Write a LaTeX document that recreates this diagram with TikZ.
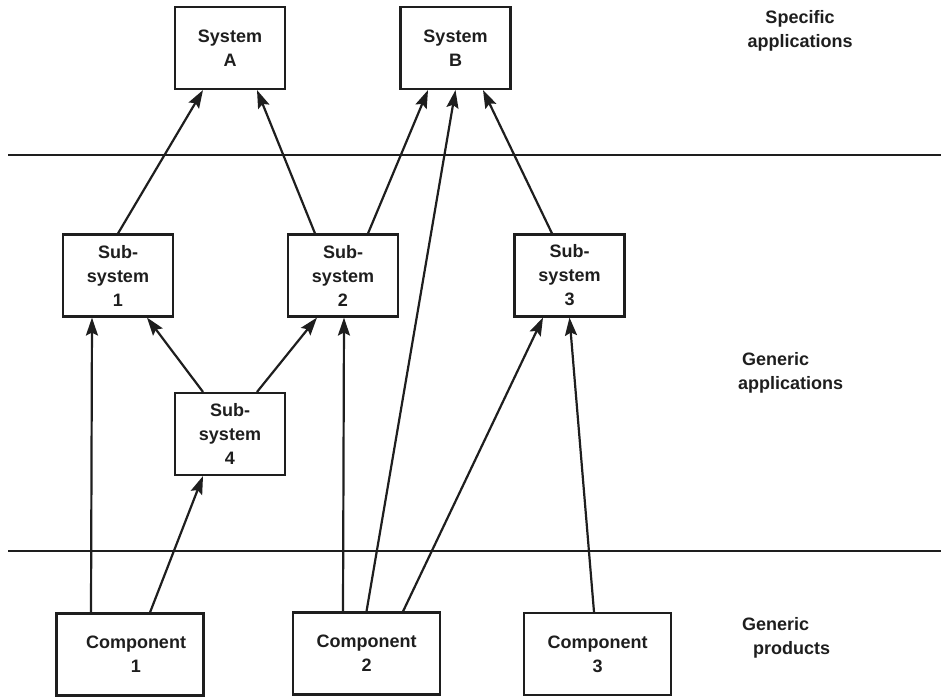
\documentclass[tikz,border=0pt]{standalone}
\usepackage{fontspec}
\setmainfont{Liberation Sans}
\usepackage{tikz}
\usetikzlibrary{arrows.meta}
\definecolor{inkgray}{RGB}{30,30,30}

\begin{document}
\begin{tikzpicture}[x=1pt, y=-1pt,
        every node/.style={font=\fontsize{18}{24}\selectfont\bfseries, text=inkgray},
        sysbox/.style={draw=inkgray, line width=2.1pt, inner sep=0pt, minimum width=110pt, minimum height=82pt, align=center},
        compbox/.style={sysbox, minimum width=147pt},
        link/.style={-{Stealth[length=18pt,width=12pt,inset=3pt]}, line width=2.2pt, inkgray},
        layer/.style={line width=2.8pt, inkgray},
        tag/.style={inner sep=0pt, align=left}]
        \useasboundingbox (0,0) rectangle (941,696);
        \draw[layer] (8,155) -- (941,155);
        \draw[layer] (8,551) -- (941,551);
        \node[sysbox] (sysA) at (230,48) {System\\A};
        \node[sysbox] (sysB) at (455.5,48) {System\\B};
        \node[sysbox] (sub1) at (118,275.5) {Sub-\\system\\1};
        \node[sysbox] (sub2) at (343,275.5) {Sub-\\system\\2};
        \node[sysbox] (sub3) at (569.5,275.5) {Sub-\\system\\3};
        \node[sysbox] (sub4) at (230,434) {Sub-\\system\\4};
        \node[compbox] (comp1) at (130,654.5) {\hspace*{12pt}Component\\\hspace*{12pt}1};
        \node[compbox] (comp2) at (366.5,653.5) {Component\\2};
        \node[compbox] (comp3) at (597.5,654) {Component\\3};
        \node[tag, align=center, anchor=north] (spec) at (800,10) {Specific\\applications};
        \node[tag, anchor=north west] (genapp) at (738,352) {\hspace*{4pt}Generic\\applications};
        \node[tag, anchor=north west] (genprod) at (742,617) {Generic\\\hspace*{11pt}products};
        \draw[link] (sub1.north) -- ([xshift=-27pt]sysA.south);
        \draw[link] ([xshift=-28pt]sub2.north) -- ([xshift=27pt]sysA.south);
        \draw[link] ([xshift=25pt]sub2.north) -- ([xshift=-27.5pt]sysB.south);
        \draw[link] (comp2.north) -- (sysB.south);
        \draw[link] ([xshift=-17.5pt]sub3.north) -- ([xshift=27.5pt]sysB.south);
        \draw[link] ([xshift=-39pt]comp1.north) -- ([xshift=-26pt]sub1.south);
        \draw[link] ([xshift=20pt]comp1.north) -- ([xshift=-27pt]sub4.south);
        \draw[link] ([xshift=-27pt]sub4.north) -- ([xshift=29pt]sub1.south);
        \draw[link] ([xshift=27pt]sub4.north) -- ([xshift=-26pt]sub2.south);
        \draw[link] ([xshift=-23.5pt]comp2.north) -- ([xshift=1pt]sub2.south);
        \draw[link] ([xshift=36.5pt]comp2.north) -- ([xshift=-26.5pt]sub3.south);
        \draw[link] ([xshift=-3.5pt]comp3.north) -- (sub3.south);
\end{tikzpicture}
\end{document}
